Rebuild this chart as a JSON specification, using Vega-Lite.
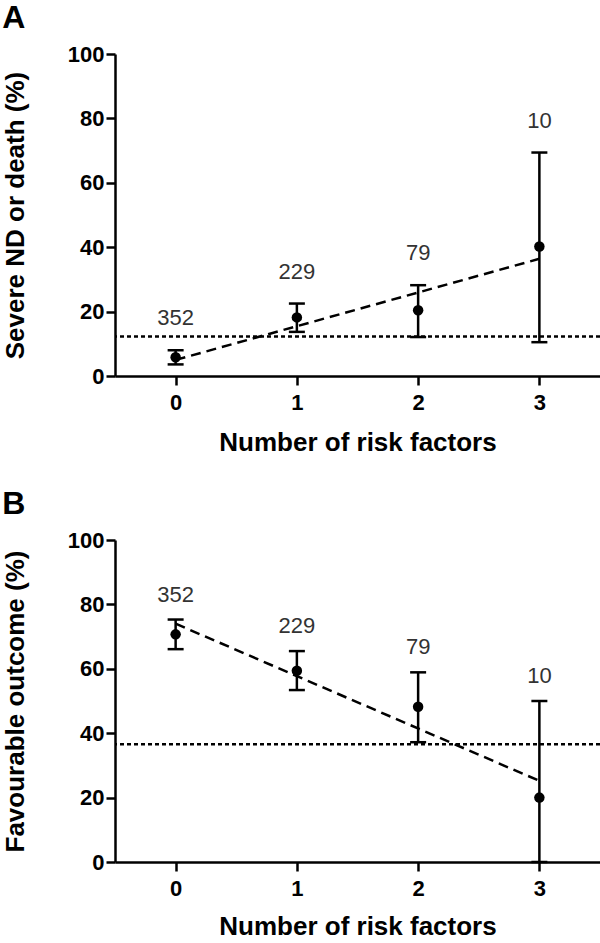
{
  "$schema": "https://vega.github.io/schema/vega-lite/v6.json",
  "background": "white",
  "padding": {"left": 2, "top": 2, "right": 2, "bottom": 0},
  "config": {
    "font": "Liberation Sans",
    "view": {"stroke": null},
    "axis": {
      "domainColor": "#000", "domainWidth": 2.5, "tickColor": "#000", "tickWidth": 2.5, "tickSize": 9,
      "labelColor": "#000", "labelFont": "Liberation Sans", "labelFontWeight": "bold", "labelFontSize": 22,
      "titleColor": "#000", "titleFont": "Liberation Sans", "titleFontWeight": "bold", "titleFontSize": 26,
      "grid": false
    },
    "title": {"font": "Liberation Sans", "fontSize": 32, "fontWeight": "bold", "color": "#000", "anchor": "start", "frame": "bounds"}
  },
  "datasets": {
    "a": [
      {"risk": 0, "pct": 5.8, "lo": 3.6, "hi": 8.0, "n": "352"},
      {"risk": 1, "pct": 18.2, "lo": 13.7, "hi": 22.5, "n": "229"},
      {"risk": 2, "pct": 20.4, "lo": 12.1, "hi": 28.2, "n": "79"},
      {"risk": 3, "pct": 40.2, "lo": 10.5, "hi": 69.4, "n": "10"}
    ],
    "atrend": [{"risk": 0, "fit": 5.0}, {"risk": 3, "fit": 36.4}],
    "aref": [{"ref": 12.3}],
    "b": [
      {"risk": 0, "pct": 70.7, "lo": 66.1, "hi": 75.3, "n": "352"},
      {"risk": 1, "pct": 59.4, "lo": 53.4, "hi": 65.5, "n": "229"},
      {"risk": 2, "pct": 48.2, "lo": 37.2, "hi": 58.9, "n": "79"},
      {"risk": 3, "pct": 20.0, "lo": 0, "hi": 50.0, "n": "10"}
    ],
    "btrend": [{"risk": 0, "fit": 74.0}, {"risk": 3, "fit": 25.2}],
    "bref": [{"ref": 36.6}]
  },
  "spacing": 33,
  "vconcat": [
    {
      "title": {"text": "A", "offset": 8},
      "width": 485, "height": 322,
      "layer": [
        {
          "data": {"name": "aref"},
          "mark": {"type": "rule", "color": "#000", "strokeWidth": 2.5, "strokeDash": [4, 3]},
          "encoding": {"y": {"field": "ref", "type": "quantitative", "scale": {"domain": [0, 100]}}}
        },
        {
          "data": {"name": "atrend"},
          "mark": {"type": "line", "color": "#000", "strokeWidth": 2.5, "strokeDash": [10, 6]},
          "encoding": {
            "x": {"field": "risk", "type": "quantitative"},
            "y": {"field": "fit", "type": "quantitative"}
          }
        },
        {
          "data": {"name": "a"},
          "layer": [
            {
              "mark": {"type": "rule", "color": "#000", "strokeWidth": 2.5},
              "encoding": {
                "x": {"field": "risk", "type": "quantitative", "scale": {"domain": [-0.5, 3.5], "nice": false, "zero": false},
                  "axis": {"values": [0, 1, 2, 3], "format": "d", "title": "Number of risk factors", "labelPadding": 7, "titlePadding": 16}},
                "y": {"field": "lo", "type": "quantitative", "scale": {"domain": [0, 100], "nice": false},
                  "axis": {"values": [0, 20, 40, 60, 80, 100], "title": "Severe ND or death (%)", "labelPadding": 2, "titlePadding": 39}},
                "y2": {"field": "hi"}
              }
            },
            {
              "mark": {"type": "tick", "orient": "horizontal", "color": "#000", "opacity": 1, "size": 16, "thickness": 2.5},
              "encoding": {"x": {"field": "risk", "type": "quantitative"}, "y": {"field": "hi", "type": "quantitative"}}
            },
            {
              "mark": {"type": "tick", "orient": "horizontal", "color": "#000", "opacity": 1, "size": 16, "thickness": 2.5},
              "encoding": {"x": {"field": "risk", "type": "quantitative"}, "y": {"field": "lo", "type": "quantitative"}}
            },
            {
              "mark": {"type": "point", "filled": true, "color": "#000", "opacity": 1, "size": 110},
              "encoding": {"x": {"field": "risk", "type": "quantitative"}, "y": {"field": "pct", "type": "quantitative"}}
            },
            {
              "mark": {"type": "text", "color": "#333", "fontSize": 22, "font": "Liberation Sans", "baseline": "middle", "dy": -32},
              "encoding": {"x": {"field": "risk", "type": "quantitative"}, "y": {"field": "hi", "type": "quantitative"}, "text": {"field": "n"}}
            }
          ]
        }
      ]
    },
    {
      "title": {"text": "B", "offset": 8},
      "width": 485, "height": 322,
      "layer": [
        {
          "data": {"name": "bref"},
          "mark": {"type": "rule", "color": "#000", "strokeWidth": 2.5, "strokeDash": [4, 3]},
          "encoding": {"y": {"field": "ref", "type": "quantitative", "scale": {"domain": [0, 100]}}}
        },
        {
          "data": {"name": "btrend"},
          "mark": {"type": "line", "color": "#000", "strokeWidth": 2.5, "strokeDash": [10, 6]},
          "encoding": {
            "x": {"field": "risk", "type": "quantitative"},
            "y": {"field": "fit", "type": "quantitative"}
          }
        },
        {
          "data": {"name": "b"},
          "layer": [
            {
              "mark": {"type": "rule", "color": "#000", "strokeWidth": 2.5},
              "encoding": {
                "x": {"field": "risk", "type": "quantitative", "scale": {"domain": [-0.5, 3.5], "nice": false, "zero": false},
                  "axis": {"values": [0, 1, 2, 3], "format": "d", "title": "Number of risk factors", "labelPadding": 7, "titlePadding": 14}},
                "y": {"field": "lo", "type": "quantitative", "scale": {"domain": [0, 100], "nice": false},
                  "axis": {"values": [0, 20, 40, 60, 80, 100], "title": "Favourable outcome (%)", "labelPadding": 2, "titlePadding": 39}},
                "y2": {"field": "hi"}
              }
            },
            {
              "mark": {"type": "tick", "orient": "horizontal", "color": "#000", "opacity": 1, "size": 16, "thickness": 2.5},
              "encoding": {"x": {"field": "risk", "type": "quantitative"}, "y": {"field": "hi", "type": "quantitative"}}
            },
            {
              "mark": {"type": "tick", "orient": "horizontal", "color": "#000", "opacity": 1, "size": 16, "thickness": 2.5},
              "encoding": {"x": {"field": "risk", "type": "quantitative"}, "y": {"field": "lo", "type": "quantitative"}}
            },
            {
              "mark": {"type": "point", "filled": true, "color": "#000", "opacity": 1, "size": 110},
              "encoding": {"x": {"field": "risk", "type": "quantitative"}, "y": {"field": "pct", "type": "quantitative"}}
            },
            {
              "mark": {"type": "text", "color": "#333", "fontSize": 22, "font": "Liberation Sans", "baseline": "middle", "dy": -25},
              "encoding": {"x": {"field": "risk", "type": "quantitative"}, "y": {"field": "hi", "type": "quantitative"}, "text": {"field": "n"}}
            }
          ]
        }
      ]
    }
  ]
}
